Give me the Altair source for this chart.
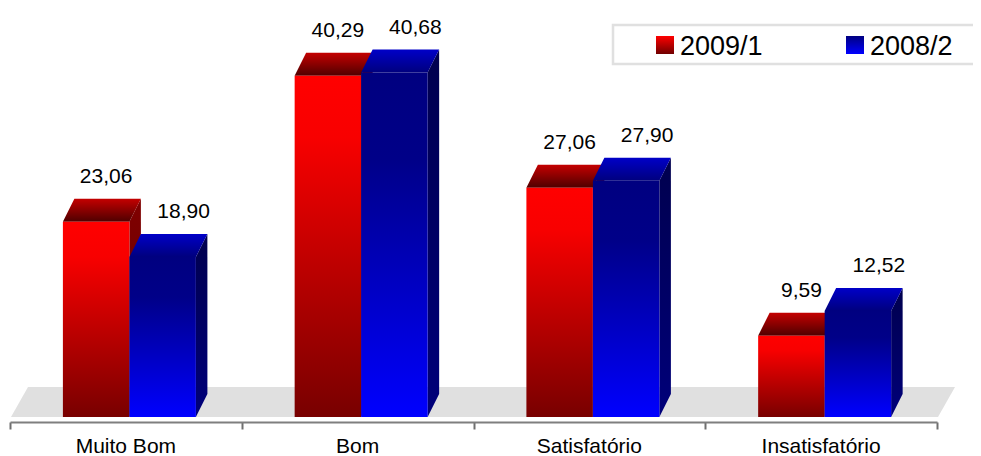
import altair as alt
import pandas as pd

# ---------------- data ----------------
CATEGORIES = ["Muito Bom", "Bom", "Satisfatório", "Insatisfatório"]
SERIES = ["2009/1", "2008/2"]
VALUES_2009_1 = [23.06, 40.29, 27.06, 9.59]
VALUES_2008_2 = [18.90, 40.68, 27.90, 12.52]

# ---------------- layout / style ----------------
FONT = "Liberation Sans"
W, H = 927, 409
N = len(CATEGORIES)
YMAX = 48.3
PX_X = W / N          # pixels per category unit
PX_Y = H / YMAX       # pixels per value unit

BAR_W = 66.5 / PX_X
FIRST_OFF = 52.9 / PX_X
DEPTH_X = 11.5 / PX_X
DEPTH_Y = 23.0 / PX_Y
FLOOR_X0 = 1.0 / PX_X
FLOOR_DX = 17.0 / PX_X
FLOOR_DY = 30.0 / PX_Y

XS = alt.Scale(domain=[0, N], nice=False, zero=False)
YS = alt.Scale(domain=[0, YMAX], nice=False, zero=False)
X_AXIS = alt.Axis(values=list(range(N + 1)), labels=False, grid=False,
                  domainColor="#7F7F7F", domainWidth=2,
                  tickColor="#6F6F6F", tickWidth=2, tickSize=7,
                  offset=5, title=None)


def grad(stops):
    return alt.Gradient(
        gradient="linear",
        stops=[alt.GradientStop(color=c, offset=o) for o, c in stops],
        x1=0, x2=0, y1=0, y2=1,
    )


STYLE = {
    "2009/1": dict(
        front=grad([(0, "#FF0000"), (0.18, "#F80000"), (1, "#780000")]),
        top=grad([(0, "#C40000"), (1, "#4E0000")]),
        side=grad([(0, "#800000"), (1, "#5E0000")]),
        swatch=grad([(0, "#FF0000"), (1, "#700000")]),
        label_dx=10,
    ),
    "2008/2": dict(
        front=grad([(0, "#000080"), (0.25, "#000088"), (1, "#0000FF")]),
        top=grad([(0, "#0000C8"), (1, "#00007E")]),
        side=grad([(0, "#00004E"), (1, "#00007A")]),
        swatch=grad([(0, "#000080"), (1, "#0000FF")]),
        label_dx=21,
    ),
}


def fmt(v):
    return f"{v:.2f}".replace(".", ",")


def series_frames(values, k):
    front, top, side, labels = [], [], [], []
    for i, v in enumerate(values):
        left = i + FIRST_OFF + k * BAR_W
        right = left + BAR_W
        fid = f"{k}-{i}"
        front.append(dict(x=left, x2=right, y=v, y2=0))
        top += [
            dict(id=fid, x=left, y=v, y2=v),
            dict(id=fid, x=left + DEPTH_X, y=v, y2=v + DEPTH_Y),
            dict(id=fid, x=right, y=v, y2=v + DEPTH_Y),
            dict(id=fid, x=right + DEPTH_X, y=v + DEPTH_Y, y2=v + DEPTH_Y),
        ]
        side += [
            dict(id=fid, x=right, y=0, y2=v),
            dict(id=fid, x=right + DEPTH_X, y=DEPTH_Y, y2=v + DEPTH_Y),
        ]
        labels.append(dict(x=(left + right) / 2, y=v, t=fmt(v)))
    return (pd.DataFrame(front), pd.DataFrame(top),
            pd.DataFrame(side), pd.DataFrame(labels))


AX_X = lambda f: alt.X(f, scale=XS, axis=X_AXIS, title=None)
NOAX_Y = lambda f: alt.Y(f, scale=YS, axis=None)

# floor
floor_df = pd.DataFrame([
    dict(x=FLOOR_X0, y=0, y2=0),
    dict(x=FLOOR_X0 + FLOOR_DX, y=0, y2=FLOOR_DY),
    dict(x=N + FLOOR_X0, y=0, y2=FLOOR_DY),
    dict(x=N + FLOOR_X0 + FLOOR_DX, y=FLOOR_DY, y2=FLOOR_DY),
])
floor = alt.Chart(floor_df).mark_area(color="#E0E0E0").encode(
    x=AX_X("x:Q"), y=NOAX_Y("y:Q"), y2="y2:Q")

layers = [floor]
label_layers = []
for k, (name, vals) in enumerate(zip(SERIES, [VALUES_2009_1, VALUES_2008_2])):
    st = STYLE[name]
    fdf, tdf, sdf, ldf = series_frames(vals, k)
    side = alt.Chart(sdf).mark_area(color=st["side"]).encode(
        x=AX_X("x:Q"), y=NOAX_Y("y:Q"), y2="y2:Q", detail="id:N")
    top = alt.Chart(tdf).mark_area(color=st["top"]).encode(
        x=AX_X("x:Q"), y=NOAX_Y("y:Q"), y2="y2:Q", detail="id:N")
    front = alt.Chart(fdf).mark_rect(color=st["front"]).encode(
        x=AX_X("x:Q"), x2="x2:Q", y=NOAX_Y("y:Q"), y2="y2:Q")
    layers += [side, top, front]
    label_layers.append(
        alt.Chart(ldf).mark_text(font=FONT, fontSize=21, color="#000000",
                                 baseline="alphabetic", align="center",
                                 dx=st["label_dx"], dy=-39).encode(
            x=AX_X("x:Q"), y=NOAX_Y("y:Q"), text="t:N"))

# category labels
cat_df = pd.DataFrame({"cat": CATEGORIES, "xc": [i + 0.5 for i in range(N)]})
cat_labels = alt.Chart(cat_df).mark_text(
    font=FONT, fontSize=21, color="#000000", baseline="alphabetic", align="center"
).encode(x=AX_X("xc:Q"), y=alt.value(445), text="cat:N")

# legend
one = pd.DataFrame({"a": [0]})
legend_box = alt.Chart(one).mark_rect(
    fill="#FFFFFF", stroke="#E0E0E0", strokeWidth=2.5
).encode(x=alt.value(603), x2=alt.value(1000), y=alt.value(17), y2=alt.value(56))

legend_layers = [legend_box]
LEG_X = [646, 836]
for k, name in enumerate(SERIES):
    sw = alt.Chart(one).mark_rect(color=STYLE[name]["swatch"]).encode(
        x=alt.value(LEG_X[k]), x2=alt.value(LEG_X[k] + 18),
        y=alt.value(28), y2=alt.value(46))
    tx = alt.Chart(pd.DataFrame({"t": [name]})).mark_text(
        font=FONT, fontSize=27, color="#000000", align="left",
        baseline="alphabetic").encode(
        x=alt.value(LEG_X[k] + 24), y=alt.value(46.5), text="t:N")
    legend_layers += [sw, tx]

chart = alt.layer(*layers, *label_layers, cat_labels, *legend_layers).properties(
    width=W, height=H,
    padding={"left": 2, "top": 0, "right": 36, "bottom": 39},
    autosize=alt.AutoSizeParams(type="none"),
).configure_view(stroke=None)

chart.save("out.html", embed_options={"renderer": "svg", "actions": False})
